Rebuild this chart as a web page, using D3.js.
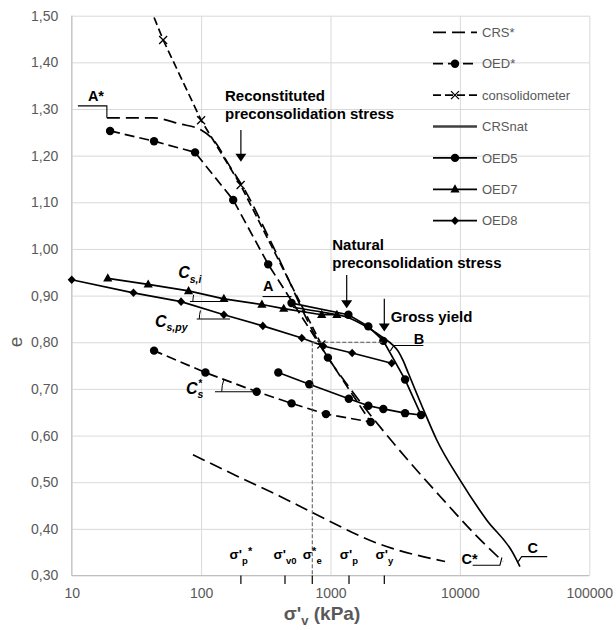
<!DOCTYPE html>
<html>
<head>
<meta charset="utf-8">
<title>e - log σ'v</title>
<script src="https://cdn.jsdelivr.net/npm/d3@7/dist/d3.min.js"></script>
<style>
  body { margin: 0; background: #fff; }
  text { font-family: "Liberation Sans", Arial, sans-serif; }
</style>
</head>
<body>
<script>
// Compression curves as [σ'v (kPa), e]
const crsStar = [[18.7, 1.281], [42.5, 1.281], [68.7, 1.268], [100, 1.255], [128, 1.230], [161, 1.184],
	[218, 1.126], [341, 1.019], [859, 0.788], [1545, 0.687], [3040, 0.585], [7020, 0.470], [13550, 0.384], [21500, 0.330]];
const crsStarLow = [[86.5, 0.559], [200, 0.510], [406, 0.470], [736, 0.434], [2415, 0.367], [7680, 0.330]];
const oedStar = [[19.8, 1.253], [43.3, 1.231], [89.8, 1.207], [177, 1.105], [330, 0.967], [955, 0.767], [2045, 0.629],
	[923, 0.646], [500, 0.669], [269, 0.694], [108, 0.735], [43.3, 0.782]];
const consolidometer = [[40, 1.52], [50.9, 1.448], [100, 1.276], [202, 1.137], [850, 0.795]];
const crsNat = [[513, 0.875], [877, 0.864], [1365, 0.853], [1950, 0.831], [2600, 0.808], [3000, 0.795], [3350, 0.780],
	[3650, 0.760], [3990, 0.734], [5370, 0.648], [6610, 0.591], [10000, 0.505], [16100, 0.419], [25600, 0.349], [29100, 0.319]];
const oed5 = [[500, 0.884], [1375, 0.859], [1960, 0.834], [2560, 0.803], [3770, 0.720], [5010, 0.644],
	[3770, 0.648], [2560, 0.657], [1960, 0.664], [1385, 0.679], [686, 0.710], [395, 0.735]];
const oed7 = [[19, 0.937], [39, 0.924], [80, 0.910], [150, 0.893], [295, 0.881], [435, 0.872], [855, 0.859], [1120, 0.859]];
const oed8 = [[10, 0.934], [30, 0.906], [70, 0.887], [150, 0.859], [300, 0.835], [600, 0.809], [880, 0.792], [1470, 0.777], [2970, 0.755]];

// Axis ticks
const stressTicks = [10, 100, 1000, 10000, 100000];
const eTicks = [0.30, 0.40, 0.50, 0.60, 0.70, 0.80, 0.90, 1.00, 1.10, 1.20, 1.30, 1.40, 1.50];

// Characteristic stresses marked on the stress axis, as [text, position] parts
const stressLabels = [
	[["σ'", ""], ["p", "sub"], ["*", "sup"]],
	[["σ'", ""], ["v0", "sub"]],
	[["σ", ""], ["*", "sup"], ["e", "sub"]],
	[["σ'", ""], ["p", "sub"]],
	[["σ'", ""], ["y", "sub"]]
];
const stressValues = [203, 445, 723, 1390, 2605];
const eAtSigmaE = 0.80;

// Legend entries
const seriesNames = ["CRS*", "OED*", "consolidometer", "CRSnat", "OED5", "OED7", "OED8"];
const seriesData = [crsStar, oedStar, consolidometer, crsNat, oed5, oed7, oed8];

const style = {
	"CRS*": { dash: "13,6", marker: null, smooth: true },
	"OED*": { dash: "10,5", marker: "dot" },
	"consolidometer": { dash: "8,4", marker: "cross" },
	"CRSnat": { dash: null, marker: null, smooth: true, legendColor: "#404040", legendWidth: 2.6 },
	"OED5": { dash: null, marker: "dot" },
	"OED7": { dash: null, marker: "triangle" },
	"OED8": { dash: null, marker: "diamond" }
};

const W = 616, H = 630;
const plot = { left: 71.7, right: 589.3, top: 15.7, bottom: 575.5 };

const svg = d3.select("body").append("svg").attr("width", W).attr("height", H);

const x = d3.scaleLog().domain([10, 100000]).range([plot.left, plot.right]);
const y = d3.scaleLinear().domain([0.3, 1.5]).range([plot.bottom, plot.top]);

// Gridlines and tick labels
const yAxis = svg.append("g")
	.attr("transform", `translate(${plot.left},0)`)
	.call(d3.axisLeft(y).tickValues(eTicks).tickSize(-(plot.right - plot.left)).tickPadding(13.5)
		.tickFormat(d => d.toFixed(2).replace(".", ",")));
const xAxis = svg.append("g")
	.attr("transform", `translate(0,${plot.bottom})`)
	.call(d3.axisBottom(x).tickValues(stressTicks).tickSize(-(plot.bottom - plot.top)).tickPadding(13)
		.tickFormat(d3.format("d")));

for (let axis of [xAxis, yAxis]) {
	axis.select(".domain").remove();
	axis.attr("font-family", "Liberation Sans, Arial, sans-serif").attr("font-size", 14);
	axis.selectAll("line").attr("stroke", "#d9d9d9");
	axis.selectAll("text").attr("fill", "#595959");
}

svg.append("line").attr("x1", plot.left).attr("x2", plot.left).attr("y1", plot.top).attr("y2", plot.bottom)
	.attr("stroke", "#bfbfbf");
svg.append("line").attr("x1", plot.left).attr("x2", plot.right).attr("y1", plot.bottom).attr("y2", plot.bottom)
	.attr("stroke", "#bfbfbf");

// Axis titles
const xTitle = svg.append("text").attr("x", 322).attr("y", 620).attr("text-anchor", "middle")
	.attr("font-size", 19).attr("font-weight", "bold").attr("fill", "#595959");
xTitle.append("tspan").text("σ'");
xTitle.append("tspan").attr("font-size", 13).attr("dy", 5).text("v");
xTitle.append("tspan").attr("dy", -5).text(" (kPa)");

svg.append("text").attr("transform", "translate(22,342) rotate(-90)").attr("text-anchor", "middle")
	.attr("font-size", 19).attr("fill", "#595959").text("e");

/**
 * Draws one marker symbol centred on (cx, cy)
 */
function drawMarker(g, kind, cx, cy) {
	if (kind === "dot") {
		g.append("circle").attr("cx", cx).attr("cy", cy).attr("r", 4.2).attr("fill", "#000");
	} else if (kind === "triangle") {
		g.append("path").attr("d", "M0,-5L4.6,3.2L-4.6,3.2Z")
			.attr("transform", `translate(${cx},${cy})`).attr("fill", "#000");
	} else if (kind === "diamond") {
		g.append("path").attr("d", "M0,-4.3L4,0L0,4.3L-4,0Z")
			.attr("transform", `translate(${cx},${cy})`).attr("fill", "#000");
	} else if (kind === "cross") {
		g.append("path").attr("d", "M-4,-4L4,4M-4,4L4,-4")
			.attr("transform", `translate(${cx},${cy})`).attr("stroke", "#000").attr("stroke-width", 1.3);
	}
}

// Series
svg.append("clipPath").attr("id", "plotClip").append("rect")
	.attr("x", plot.left - 6).attr("y", plot.top).attr("width", plot.right - plot.left + 12)
	.attr("height", plot.bottom - plot.top + 6);

const series = svg.append("g").attr("clip-path", "url(#plotClip)");
const straight = d3.line().x(d => x(d[0])).y(d => y(d[1]));
const smooth = d3.line().x(d => x(d[0])).y(d => y(d[1])).curve(d3.curveMonotoneX);

function drawSeries(data, st) {
	series.append("path")
		.attr("d", (st.smooth ? smooth : straight)(data))
		.attr("fill", "none")
		.attr("stroke", "#000")
		.attr("stroke-width", 1.7)
		.attr("stroke-dasharray", st.dash);
	if (st.marker) {
		for (let d of data) {
			drawMarker(series, st.marker, x(d[0]), y(d[1]));
		}
	}
}

drawSeries(crsStarLow, style["CRS*"]);
seriesNames.forEach((name, i) => drawSeries(seriesData[i], style[name]));

// Legend
const legend = svg.append("g");
seriesNames.forEach((name, i) => {
	const ly = 32.3 + i * 31.4;
	const st = style[name];
	legend.append("line").attr("x1", 433).attr("x2", 477).attr("y1", ly).attr("y2", ly)
		.attr("stroke", st.legendColor || "#000").attr("stroke-width", st.legendWidth || 1.8)
		.attr("stroke-dasharray", st.dash);
	if (st.marker) drawMarker(legend, st.marker, 455, ly);
	legend.append("text").attr("x", 482).attr("y", ly).attr("dy", "0.36em")
		.attr("font-size", 13).attr("fill", "#595959").text(name);
});

// σ*e guide lines
const guides = svg.append("g").attr("stroke", "#555").attr("stroke-width", 1).attr("stroke-dasharray", "4,2");
guides.append("line").attr("x1", x(stressValues[2])).attr("x2", x(stressValues[2]))
	.attr("y1", y(eAtSigmaE)).attr("y2", plot.bottom);
guides.append("line").attr("x1", x(stressValues[2])).attr("x2", x(oed5[3][0]))
	.attr("y1", y(eAtSigmaE)).attr("y2", y(eAtSigmaE));

// Characteristic stress ticks and labels
const shift = { "": 0, sub: 5, sup: -4 };
const partSize = { "": 13.5, sub: 9.5, sup: 11 };
stressValues.forEach((v, i) => {
	svg.append("line").attr("x1", x(v)).attr("x2", x(v)).attr("y1", plot.bottom).attr("y2", plot.bottom + 8.5)
		.attr("stroke", "#000").attr("stroke-width", 1.2);
	const t = svg.append("text").attr("x", x(v)).attr("y", 559).attr("text-anchor", "middle")
		.attr("font-weight", "bold").attr("fill", "#000");
	let level = 0;
	for (let [txt, pos] of stressLabels[i]) {
		t.append("tspan").attr("font-size", partSize[pos]).attr("dy", shift[pos] - level).text(txt);
		level = shift[pos];
	}
});

// Bold notes with arrows
const notes = [
	{ lines: ["Reconstituted", "preconsolidation stress"], at: [153, 1.317] },
	{ lines: ["Natural", "preconsolidation stress"], at: [1032, 0.998] },
	{ lines: ["Gross yield"], at: [2918, 0.844] }
];
const arrows = [[203, 1.255, 1.187], [1334, 0.944, 0.873], [2605, 0.893, 0.823]];

for (let n of notes) {
	const t = svg.append("text").attr("x", x(n.at[0])).attr("y", y(n.at[1]))
		.attr("font-size", 15).attr("font-weight", "bold").attr("fill", "#000");
	n.lines.forEach((l, i) => {
		t.append("tspan").attr("x", x(n.at[0])).attr("dy", i === 0 ? 0 : 18).text(l);
	});
}
for (let [v, e0, e1] of arrows) {
	const ax = x(v), tip = y(e1);
	svg.append("line").attr("x1", ax).attr("x2", ax).attr("y1", y(e0)).attr("y2", tip - 7)
		.attr("stroke", "#000").attr("stroke-width", 1.2);
	svg.append("path").attr("d", `M${ax},${tip}L${ax - 5.5},${tip - 8}L${ax + 5.5},${tip - 8}Z`).attr("fill", "#000");
}

// Serif point labels with leader lines (offsets in px from the anchored point)
const pointLabels = [
	{ text: "A*", anchor: crsStar[0], leader: [[0, 0], [0, -12], [-29, -12]], dx: -19, dy: -17 },
	{ text: "A", anchor: oed5[0], leader: [[0, -6.5], [-29, -6.5]], dx: -28.5, dy: -12 },
	{ text: "B", anchor: oed5[3], leader: [[7, 10], [10.5, 4.7], [40, 4.7]], dx: 30.5, dy: 3 },
	{ text: "C*", anchor: crsStar[crsStar.length - 1], leader: [[-1, -4], [-3, 3.7], [-30.3, 3.7]], dx: -41.5, dy: 2 },
	{ text: "C", anchor: crsNat[crsNat.length - 1], leader: [[-1.7, -5], [1.7, -10], [27.3, -10]], dx: 7.5, dy: -13.4 }
];
for (let p of pointLabels) {
	const px = x(p.anchor[0]), py = y(p.anchor[1]);
	svg.append("path").attr("d", d3.line()(p.leader.map(o => [px + o[0], py + o[1]])))
		.attr("fill", "none").attr("stroke", "#000").attr("stroke-width", 1.1);
	svg.append("text").attr("x", px + p.dx).attr("y", py + p.dy)
		.attr("font-family", "Liberation Serif, Times New Roman, serif").attr("font-weight", "bold")
		.attr("font-size", 14.5).attr("fill", "#000").text(p.text);
}

// Slope (swelling index) angle marks
const slopeMarks = [
	{ sub: "s,i", sup: "", data: oed7, i: 3, j: 2, dy: 2.7, x0: -34, x1: 0, r: 31, tdx: -45.6, tdy: -20.7 },
	{ sub: "s,py", sup: "", data: oed8, i: 3, j: 4, dy: 4.2, x0: -27.2, x1: 6.1, r: 30.7, tdx: -68.9, tdy: 11.9 },
	{ sub: "s", sup: "*", data: oedStar, i: 9, j: 10, dy: 0, x0: -41.7, x1: 0, r: 35, tdx: -70.7, tdy: 2.2 }
];
for (let m of slopeMarks) {
	const p = m.data[m.i], q = m.data[m.j];
	const cx = x(p[0]), cy = y(p[1]) + m.dy;
	const a = Math.atan(Math.abs((y(q[1]) - y(p[1])) / (x(q[0]) - x(p[0]))));
	const ox = cx + m.x1;
	svg.append("line").attr("x1", cx + m.x0).attr("x2", ox).attr("y1", cy).attr("y2", cy)
		.attr("stroke", "#000").attr("stroke-width", 1.1);
	svg.append("path")
		.attr("d", `M${ox - m.r},${cy}A${m.r},${m.r} 0 0 1 ${ox - m.r * Math.cos(a)},${cy - m.r * Math.sin(a)}`)
		.attr("fill", "none").attr("stroke", "#000").attr("stroke-width", 1);
	const tx = cx + m.tdx, ty = cy - m.dy + m.tdy;
	const lab = svg.append("g").attr("font-weight", "bold").attr("font-style", "italic").attr("fill", "#000");
	lab.append("text").attr("x", tx).attr("y", ty).attr("font-size", 16).text("C");
	lab.append("text").attr("x", tx + 11.5).attr("y", ty + 4.5).attr("font-size", 10.5).text(m.sub);
	if (m.sup) lab.append("text").attr("x", tx + 12).attr("y", ty - 7).attr("font-size", 10).text(m.sup);
}
</script>
</body>
</html>
